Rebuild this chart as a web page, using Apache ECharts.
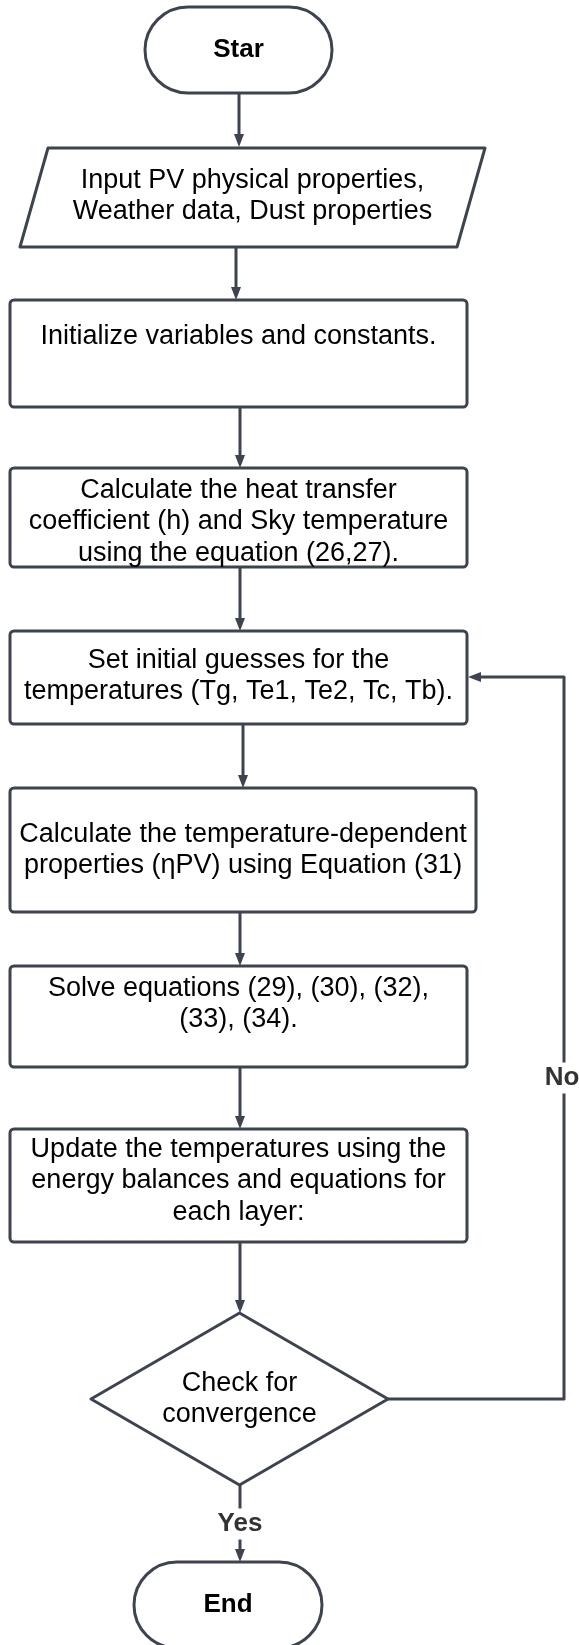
<!DOCTYPE html>
<html>
<head>
<meta charset="utf-8">
<script src="https://cdn.jsdelivr.net/npm/echarts@6/dist/echarts.min.js"></script>
<style>
  html, body { margin: 0; padding: 0; background: #fff; }
  #chart { width: 579px; height: 1645px; }
</style>
</head>
<body>
<div id="chart"></div>
<script>
  // steps of the flowchart
  var stepTexts = [
    'Star',
    'Input PV physical properties,\nWeather data, Dust properties',
    'Initialize variables and constants.',
    'Calculate the heat transfer\ncoefficient (h) and Sky temperature\nusing the equation (26,27).',
    'Set initial guesses for the\ntemperatures (Tg, Te1, Te2, Tc, Tb).',
    'Calculate the temperature-dependent\nproperties (\u03b7PV) using Equation (31)',
    'Solve equations (29), (30), (32),\n(33), (34).',
    'Update the temperatures using the\nenergy balances and equations for\neach layer:',
    'Check for\nconvergence',
    'End'
  ];
  var stepShapes = ['terminal', 'io', 'process', 'process', 'process',
                    'process', 'process', 'process', 'decision', 'terminal'];

  // connections: from step -> to step, with branch label
  var edgeFrom = [0, 1, 2, 3, 4, 5, 6, 7, 8, 8];
  var edgeTo   = [1, 2, 3, 4, 5, 6, 7, 8, 4, 9];
  var edgeLabels = ['', '', '', '', '', '', '', '', 'No', 'Yes'];

  //region layout (diagram space, px)
  // [left, right, top, bottom]
  var stepBoxes = [
    [145, 332, 7, 93],
    [20, 485, 148, 247],
    [10, 467, 300, 407],
    [10, 467, 468, 567],
    [10, 467, 631, 724],
    [10, 476, 788, 912],
    [10, 467, 966, 1067],
    [10, 467, 1129, 1242],
    [91, 388, 1313, 1485],
    [134, 322, 1562, 1648]
  ];
  var textY = [50, 196, 337, 522, 676, 850, 1004, 1181, 1399, 1605];
  var ioSkew = 28;

  var edgePaths = [
    [[239, 93], [239, 147]],
    [[236, 247], [236, 300]],
    [[240, 407], [240, 468]],
    [[240, 567], [240, 631]],
    [[243, 724], [243, 788]],
    [[240, 912], [240, 966]],
    [[240, 1067], [240, 1129]],
    [[240, 1242], [240, 1313]],
    [[388, 1399], [564, 1399], [564, 677], [468, 677]],
    [[240, 1485], [240, 1562]]
  ];
  var edgeLabelPos = [null, null, null, null, null, null, null, null, [562, 1078], [240, 1524]];
  //endregion

  var lineColor = '#3d4450';
  var fontFamily = '"Liberation Sans", Arial, Helvetica, sans-serif';

  var chart = echarts.init(document.getElementById('chart'));

  function renderStep(params, api) {
    var i = api.value(2);
    var b = stepBoxes[i];
    var tl = api.coord([b[0], b[2]]);
    var br = api.coord([b[1], b[3]]);
    var x = tl[0], y = tl[1], w = br[0] - tl[0], h = br[1] - tl[1];
    var style = { fill: '#fff', stroke: lineColor, lineWidth: 3, lineJoin: 'round' };
    var kind = stepShapes[i];
    var box;
    if (kind === 'terminal') {
      box = { type: 'rect', shape: { x: x, y: y, width: w, height: h, r: h / 2 }, style: style };
    } else if (kind === 'process') {
      box = { type: 'rect', shape: { x: x, y: y, width: w, height: h, r: 4 }, style: style };
    } else if (kind === 'io') {
      var s = api.size([ioSkew, 0])[0];
      box = { type: 'polygon', shape: { points: [[x + s, y], [x + w, y], [x + w - s, y + h], [x, y + h]] }, style: style };
    } else {
      box = { type: 'polygon', shape: { points: [[x + w / 2, y], [x + w, y + h / 2], [x + w / 2, y + h], [x, y + h / 2]] }, style: style };
    }
    var tp = api.coord([(b[0] + b[1]) / 2, textY[i]]);
    var bold = kind === 'terminal';
    return {
      type: 'group',
      children: [box, {
        type: 'text',
        style: {
          text: stepTexts[i],
          x: tp[0], y: tp[1],
          align: 'center', verticalAlign: 'middle',
          fill: '#000',
          font: (bold ? 'bold 26px ' : '27px ') + fontFamily,
          lineHeight: 31.5
        }
      }]
    };
  }

  function renderEdge(params, api) {
    var i = api.value(2);
    var pts = edgePaths[i].map(function (p) { return api.coord(p); });
    var n = pts.length;
    var end = pts[n - 1], prev = pts[n - 2];
    var dx = end[0] - prev[0], dy = end[1] - prev[1];
    var len = Math.sqrt(dx * dx + dy * dy);
    var ux = dx / len, uy = dy / len;
    var headLen = 13, headHalf = 5;
    var base = [end[0] - ux * headLen, end[1] - uy * headLen];
    var line = pts.slice(0, n - 1).concat([base]);
    var children = [{
      type: 'polyline',
      shape: { points: line },
      style: { stroke: lineColor, lineWidth: 3, fill: null, lineJoin: 'round' }
    }, {
      type: 'polygon',
      shape: { points: [end, [base[0] - uy * headHalf, base[1] + ux * headHalf], [base[0] + uy * headHalf, base[1] - ux * headHalf]] },
      style: { fill: lineColor }
    }];
    if (edgeLabels[i]) {
      var lp = api.coord(edgeLabelPos[i]);
      children.push({
        type: 'text',
        style: {
          text: edgeLabels[i],
          x: lp[0], y: lp[1],
          align: 'center', verticalAlign: 'middle',
          fill: '#333',
          font: 'bold 26px ' + fontFamily,
          backgroundColor: '#fff',
          padding: [2, 0],
          lineHeight: 27
        }
      });
    }
    return { type: 'group', children: children };
  }

  var stepData = stepTexts.map(function (t, i) {
    var b = stepBoxes[i];
    return [(b[0] + b[1]) / 2, (b[2] + b[3]) / 2, i];
  });
  var edgeData = edgeFrom.map(function (f, i) {
    return [edgePaths[i][0][0], edgePaths[i][0][1], i];
  });

  var option = {
    backgroundColor: '#fff',
    animation: false,
    grid: { left: 0, right: 0, top: 0, bottom: 0 },
    xAxis: { type: 'value', min: 0, max: 579, show: false },
    yAxis: { type: 'value', min: 0, max: 1645, inverse: true, show: false },
    series: [
      {
        name: 'edges',
        type: 'custom',
        coordinateSystem: 'cartesian2d',
        clip: false,
        silent: true,
        encode: { x: 0, y: 1 },
        data: edgeData,
        renderItem: renderEdge,
        z: 1
      },
      {
        name: 'steps',
        type: 'custom',
        coordinateSystem: 'cartesian2d',
        clip: false,
        silent: true,
        encode: { x: 0, y: 1 },
        data: stepData,
        renderItem: renderStep,
        z: 2
      }
    ]
  };
  chart.setOption(option);
</script>
</body>
</html>
